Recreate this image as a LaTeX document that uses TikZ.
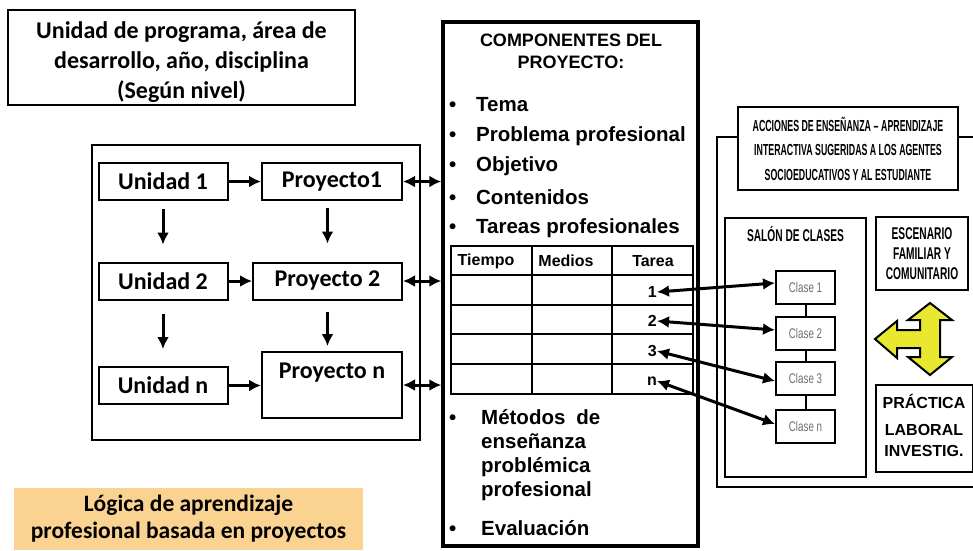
\documentclass[tikz,border=0pt]{standalone}
\usepackage{fontspec}
\setmainfont{Carlito}
\newfontfamily\arialfont{Liberation Sans}
\newfontfamily\narrowfont[FakeStretch=0.6]{Liberation Sans}
\newfontfamily\narrowerfont[FakeStretch=0.55]{Liberation Sans}
\newfontfamily\clasefont[FakeStretch=0.7]{Liberation Sans}
\usetikzlibrary{positioning, calc, arrows, arrows.meta}

\definecolor{logicafill}{RGB}{249,211,143}
\definecolor{flechaamarilla}{RGB}{232,232,48}
\definecolor{clasegris}{RGB}{110,110,110}

\tikzset{
	unidad/.style={shape=rectangle, draw=black, line width=2pt, inner sep=0pt, minimum height=37pt, font=\bfseries\fontsize{24}{28}\selectfont},
	marco/.style={shape=rectangle, draw=black, line width=2pt, inner sep=0pt},
	comp/.style={font=\arialfont\bfseries\fontsize{20.5}{24}\selectfont, inner sep=0pt},
	celda/.style={font=\arialfont\bfseries\fontsize{16}{18}\selectfont, inner sep=0pt},
	angosto/.style={font=\narrowfont\bfseries\fontsize{17}{20}\selectfont, align=center, inner sep=0pt},
	clase/.style={shape=rectangle, draw=black, line width=2pt, inner sep=0pt, minimum width=59pt, minimum height=33pt, text=clasegris, font=\clasefont\fontsize{14}{15}\selectfont},
	conn/.style={-{Latex[length=12pt,width=12pt]}, line width=3pt},
	dconn/.style={{Latex[length=12pt,width=12pt]}-{Latex[length=12pt,width=12pt]}, line width=3pt}
}

\begin{document}
\begin{tikzpicture}[x=1pt,y=-1pt]
	\useasboundingbox (0,0) rectangle (973,550);

	% lado izquierdo
	\node[marco, minimum width=347pt, minimum height=95pt] (nivel) at (181.5,57.5) {};
	\node[align=center, inner sep=0pt, font=\bfseries\fontsize{24}{30}\selectfont] (niveltexto) at (181.5,62) {Unidad de programa, área de\\desarrollo, año, disciplina\\(Según nivel)};
	\node[marco, minimum width=328pt, minimum height=295pt] (logica) at (256,292.5) {};

	\node[unidad, minimum width=129pt] (u1) at (163,181.5) {Unidad 1};
	\node[unidad, minimum width=129pt] (u2) at (163,281) {Unidad 2};
	\node[unidad, minimum width=129pt] (un) at (163,385.5) {Unidad n};
	\node[unidad, minimum width=140pt] (p1) at (332,181.5) {Proyecto1};
	\node[unidad, minimum width=149pt] (p2) at (327.5,281) {Proyecto 2};
	\node[unidad, minimum width=140pt, minimum height=66pt] (pn) at (332,385) {};
	\node[font=\bfseries\fontsize{24}{28}\selectfont, inner sep=0pt] (pntexto) at (332,373) {Proyecto n};

	\path [conn] (u1) edge node[] {} (p1);
	\path [conn] (u2) edge node[] {} (p2);
	\path [conn] (un.east) edge node[] {} (un.east -| pn.west);
	\path [conn, shorten <=8pt, shorten >=17pt] (u1) edge node[] {} (u2);
	\path [conn, shorten <=13pt, shorten >=17pt] (u2) edge node[] {} (un);
	\path [conn, shorten <=7pt, shorten >=18pt] (p2.north |- p1.south) edge node[] {} (p2.north);
	\path [conn, shorten <=11pt, shorten >=5pt] (p2.south) edge node[] {} (p2.south |- pn.north);

	\node[fill=logicafill, minimum width=349pt, minimum height=62pt, inner sep=0pt, align=center, font=\bfseries\fontsize{23.5}{27}\selectfont] (lema) at (188.5,519) {Lógica de aprendizaje\\profesional basada en proyectos};

	% componentes del proyecto
	\node[shape=rectangle, draw=black, line width=3.5pt, minimum width=255pt, minimum height=524pt, inner sep=0pt] (comp) at (570.5,284) {};
	\node[align=center, inner sep=0pt, font=\arialfont\bfseries\fontsize{18}{22}\selectfont] (titulo) at (571,51) {COMPONENTES DEL\\PROYECTO:};
	\node[comp, anchor=west] (tema) at (449,105) {\makebox[27pt][l]{\textbullet}Tema};
	\node[comp, anchor=west] (problema) at (449,136) {\makebox[27pt][l]{\textbullet}Problema profesional};
	\node[comp, anchor=west] (objetivo) at (449,166) {\makebox[27pt][l]{\textbullet}Objetivo};
	\node[comp, anchor=west] (contenidos) at (449,197) {\makebox[27pt][l]{\textbullet}Contenidos};
	\node[comp, anchor=west] (tareas) at (449,228) {\makebox[27pt][l]{\textbullet}Tareas profesionales};

	\path [dconn] (p1.east) edge node[] {} (p1.east -| comp.west);
	\path [dconn] (p2.east) edge node[] {} (p2.east -| comp.west);
	\path [dconn] (pn.east) edge node[] {} (pn.east -| comp.west);

	% tabla
	\draw[line width=2pt] (451,246) rectangle (693,394);
	\foreach \y in {275,305,334,364}
		\draw[line width=2pt] (451,\y) -- (693,\y);
	\foreach \x in {532,612}
		\draw[line width=2pt] (\x,246) -- (\x,394);
	\node[celda] (tiempo) at (486,261) {Tiempo};
	\node[celda] (medios) at (566,261) {Medios};
	\node[celda] (tarea) at (653,261) {Tarea};
	\node[celda, anchor=east] (t1) at (657,292) {1};
	\node[celda, anchor=east] (t2) at (657,321) {2};
	\node[celda, anchor=east] (t3) at (657,351) {3};
	\node[celda, anchor=east] (tn) at (657,381) {n};

	\node[comp, anchor=north west, align=left] (metodos) at (449,409) {\makebox[32pt][l]{\textbullet}Métodos\hspace{11pt}de\\\hspace{32pt}enseñanza\\\hspace{32pt}problémica\\\hspace{32pt}profesional};
	\node[comp, anchor=west] (evaluacion) at (449,528) {\makebox[32pt][l]{\textbullet}Evaluación};

	% acciones
	\draw[line width=2pt] (738,137) -- (717,137) -- (717,487) -- (973,487);
	\draw[line width=2pt] (958,137) -- (973,137);
	\node[marco, minimum width=220pt, minimum height=83pt, align=center, font=\narrowerfont\bfseries\fontsize{16}{24.5}\selectfont] (acciones) at (848,148.5) {ACCIONES DE ENSEÑANZA\,–\,APRENDIZAJE\\INTERACTIVA SUGERIDAS A LOS AGENTES\\SOCIOEDUCATIVOS Y AL ESTUDIANTE};
	\node[marco, minimum width=141pt, minimum height=259pt] (salon) at (795.5,347.5) {};
	\node[angosto] (salontexto) at (795.5,234) {SALÓN DE CLASES};
	\node[marco, minimum width=92pt, minimum height=73pt, angosto] (escenario) at (922,253.5) {ESCENARIO\\FAMILIAR Y\\COMUNITARIO};
	\node[marco, minimum width=97pt, minimum height=87pt] (practica) at (924,428.5) {};
	\node[align=center, inner sep=0pt, font=\arialfont\bfseries\fontsize{16}{27}\selectfont] (practicatexto) at (924,425) {PRÁCTICA\\LABORAL\\[-6pt]INVESTIG.};

	\node[clase] (c1) at (805.5,287) {Clase 1};
	\node[clase] (c2) at (805.5,333) {Clase 2};
	\node[clase] (c3) at (805.5,378) {Clase 3};
	\node[clase] (cn) at (805.5,426) {Clase n};
	\path [-, line width=2pt] (c1) edge node[] {} (c2);
	\path [-, line width=2pt] (c2) edge node[] {} (c3);
	\path [-, line width=2pt] (c3) edge node[] {} (cn);

	\path [dconn] (t1.east) edge node[] {} ([yshift=4pt]c1.west);
	\path [dconn] (t2.east) edge node[] {} ([yshift=3pt]c2.west);
	\path [dconn] (t3.east) edge node[] {} ([yshift=-3pt]c3.west);
	\path [dconn] (tn.east) edge node[] {} ([yshift=2pt]cn.west);

	% flecha amarilla
	\filldraw[fill=flechaamarilla, draw=black, line width=2pt, line join=miter]
		(930,303) -- (952,320) -- (940,320) -- (940,357) -- (952,357) -- (930,375)
		-- (908,357) -- (920,357) -- (920,348) -- (897,348) -- (897,358) -- (875,339)
		-- (897,321) -- (897,330) -- (920,330) -- (920,320) -- (908,320) -- cycle;
\end{tikzpicture}
\end{document}
